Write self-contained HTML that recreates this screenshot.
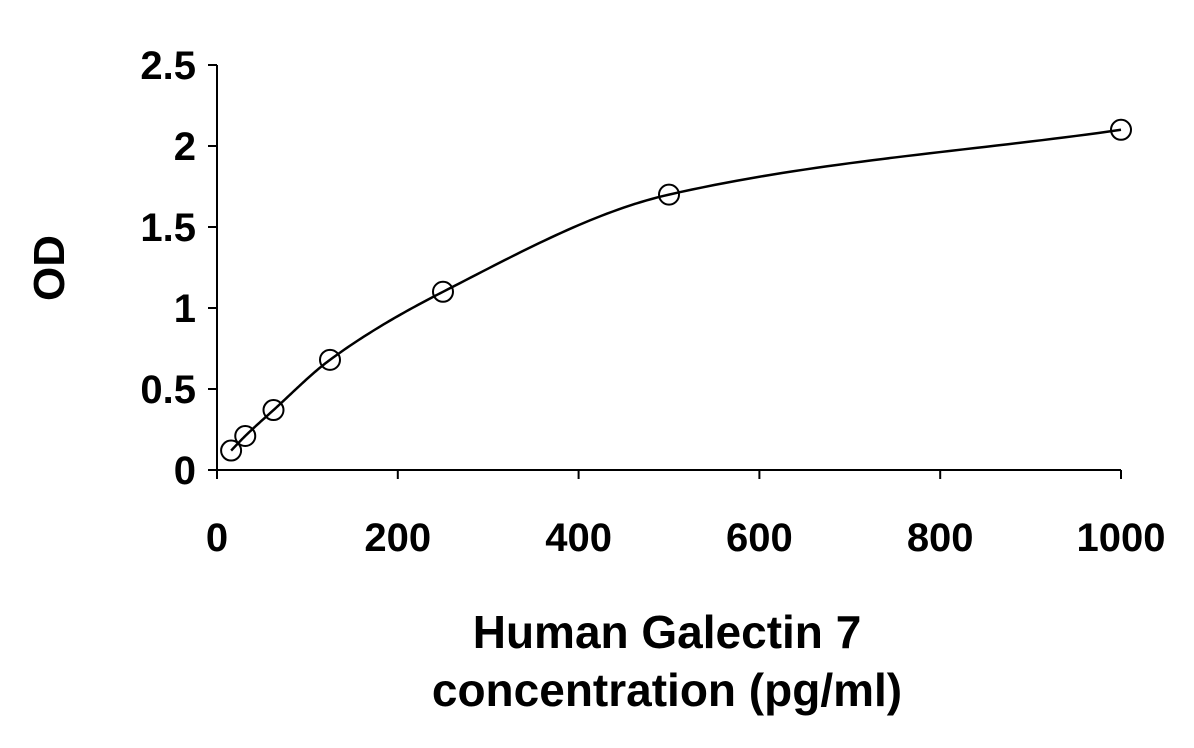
<!DOCTYPE html>
<html><head><meta charset="utf-8"><style>
html,body{margin:0;padding:0;background:#fff;}
svg{display:block;font-family:"Liberation Sans",Arial,sans-serif;font-weight:bold;}
</style></head><body>
<svg id="chart" width="1194" height="748" viewBox="0 0 1194 748">
<g id="axes"></g>
<g id="series"></g>
<text x="667" y="648" font-size="46" text-anchor="middle">Human Galectin 7</text>
<text x="667" y="706" font-size="46" text-anchor="middle">concentration (pg/ml)</text>
<text transform="translate(64,268) rotate(-90)" font-size="44" text-anchor="middle">OD</text>
</svg>
<script>
const xTicks=[0,200,400,600,800,1000];
const yTicks=[0,0.5,1,1.5,2,2.5];
const yTickLabels=["0","0.5","1","1.5","2","2.5"];
const concentrations=[15.6,31.25,62.5,125,250,500,1000];
const odValues=[0.12,0.21,0.37,0.68,1.10,1.70,2.10];
const NS="http://www.w3.org/2000/svg";
const x0=217,x1=1121,y0=470,y1=65;
function sx(v){return x0+(v-0)/(1000-0)*(x1-x0);}
function sy(v){return y0-(v-0)/(2.5-0)*(y0-y1);}
function mk(tag,attrs,parent){const e=document.createElementNS(NS,tag);for(const k in attrs)e.setAttribute(k,attrs[k]);parent.appendChild(e);return e;}
const axes=document.getElementById('axes'),series=document.getElementById('series');
let a=mk('line',{x1:x0,y1:y0,x2:x1,y2:y0,stroke:'#000','stroke-width':2},axes);


a=mk('line',{x1:x0,y1:y0,x2:x0,y2:y1,stroke:'#000','stroke-width':2},axes);


xTicks.forEach(v=>{
 const t=mk('line',{x1:sx(v),y1:y0,x2:sx(v),y2:y0+9,stroke:'#000','stroke-width':2},axes);
 
 
 const l=mk('text',{x:sx(v),y:551,'font-size':40,'text-anchor':'middle'},axes);
 l.textContent=String(v);
 
 
});
yTicks.forEach((v,i)=>{
 const t=mk('line',{x1:x0-9,y1:sy(v),x2:x0,y2:sy(v),stroke:'#000','stroke-width':2},axes);
 
 
 const l=mk('text',{x:196,y:sy(v)+14,'font-size':40,'text-anchor':'end'},axes);
 l.textContent=yTickLabels[i];
 
 
});
// monotone cubic (Fritsch-Carlson) in data space, sampled
const n=concentrations.length;
const h=[],dl=[];
for(let i=0;i<n-1;i++){h.push(concentrations[i+1]-concentrations[i]);dl.push((odValues[i+1]-odValues[i])/h[i]);}
const m=new Array(n);
m[0]=dl[0];m[n-1]=dl[n-2];
for(let i=1;i<n-1;i++){
 if(dl[i-1]*dl[i]<=0)m[i]=0;
 else{const w1=2*h[i]+h[i-1],w2=h[i]+2*h[i-1];m[i]=(w1+w2)/(w1/dl[i-1]+w2/dl[i]);}
}
let d='';
for(let i=0;i<n-1;i++){
 for(let k=0;k<=40;k++){
  const t=k/40,t2=t*t,t3=t2*t;
  const y=(2*t3-3*t2+1)*odValues[i]+(t3-2*t2+t)*h[i]*m[i]+(-2*t3+3*t2)*odValues[i+1]+(t3-t2)*h[i]*m[i+1];
  const xv=concentrations[i]+t*h[i];
  d+=(d?' L':'M')+sx(xv).toFixed(2)+','+sy(y).toFixed(2);
 }
}
const curve=mk('path',{d:d,fill:'none',stroke:'#000','stroke-width':2.5},series);


concentrations.forEach((c,i)=>{
 const p=mk('circle',{cx:sx(c),cy:sy(odValues[i]),r:10,fill:'none',stroke:'#000','stroke-width':2},series);
 
 
});
</script>
</body></html>
